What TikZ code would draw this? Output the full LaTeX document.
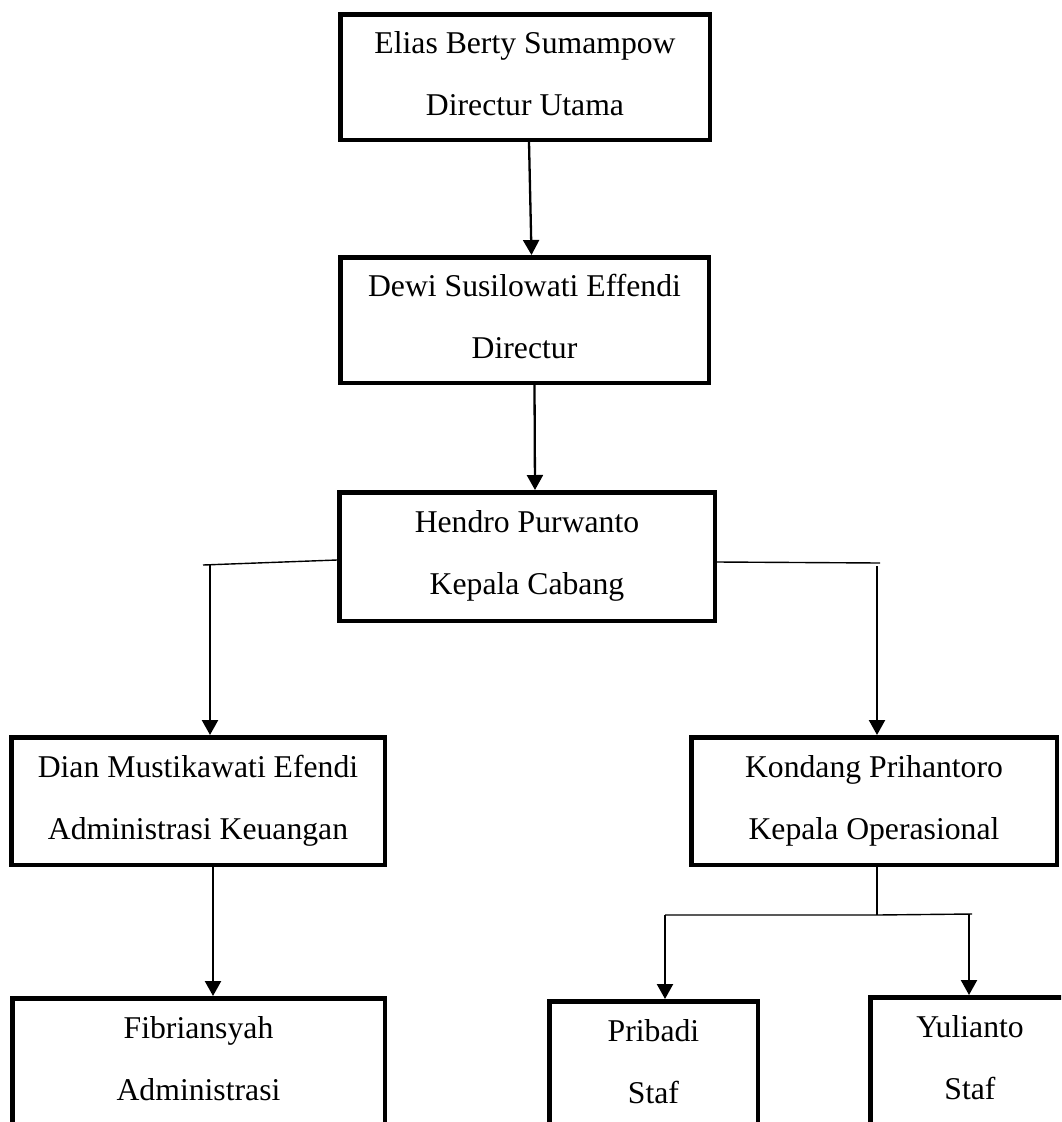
\documentclass[tikz,border=0pt]{standalone}
\usepackage{fontspec}
\setmainfont{Liberation Serif}
\usetikzlibrary{arrows.meta}
\newcommand{\boxfont}{\fontsize{31.7}{62}\selectfont}
\begin{document}
\begin{tikzpicture}[x=1pt,y=-1pt,
  box/.style={draw, line width=4.5pt, inner sep=0pt, align=center, font=\boxfont,
    execute at end node={\rule[-8pt]{0pt}{8pt}}},
  arr/.style={line width=2.3pt, -{Triangle[width=16pt,length=15pt]}},
  thinline/.style={line width=1.4pt}]
\useasboundingbox (0,0) rectangle (1061,1122);
\clip (0,0) rectangle (1061,1122);
\fill[white] (0,0) rectangle (1061,1122);

\node[box, minimum width=369.5pt, minimum height=125.5pt] (elias) at (525,77) {Elias Berty Sumampow\\Directur Utama};
\node[box, minimum width=368.5pt, minimum height=125.5pt] (dewi) at (524.5,320) {Dewi Susilowati Effendi\\Directur};
\node[box, minimum width=375.5pt, minimum height=128.5pt] (hendro) at (527,556.5) {Hendro Purwanto\\Kepala Cabang};
\node[box, minimum width=373.5pt, minimum height=127.5pt] (dian) at (198,801) {Dian Mustikawati Efendi\\Administrasi Keuangan};
\node[box, minimum width=365.5pt, minimum height=127.5pt] (kondang) at (874,801) {Kondang Prihantoro\\Kepala Operasional};
\node[box, minimum width=372.5pt, minimum height=127.5pt] (fibri) at (198.5,1062) {Fibriansyah\\Administrasi};
\node[box, minimum width=208.5pt, minimum height=127.5pt] (pribadi) at (653.5,1065) {Pribadi\\Staf};
\node[box, minimum width=199.5pt, minimum height=127.5pt] (yulianto) at (970,1061) {Yulianto\\Staf};

% top chain
\draw[arr] ([xshift=4pt]elias.south) -- ([xshift=7pt]dewi.north);
\draw[arr] ([xshift=10pt]dewi.south) -- ([xshift=8pt]hendro.north);

% left branch
\coordinate (lend) at (203,565);
\coordinate (ltop) at (210,565);
\draw[thinline] ([yshift=-3.5pt]hendro.west) -- (lend);
\draw[arr] (ltop) -- ([xshift=12pt]dian.north);

% right branch
\coordinate (rend) at (880,563);
\coordinate (rtop) at (877,566);
\draw[thinline] ([yshift=-5.5pt]hendro.east) -- (rend);
\draw[arr] (rtop) -- ([xshift=3pt]kondang.north);

% Dian to Fibriansyah
\draw[arr] ([xshift=15pt]dian.south) -- ([xshift=14.5pt]fibri.north);

% Kondang to staff
\coordinate (kjoin) at (877,915);
\coordinate (kleft) at (665,915);
\coordinate (kright) at (972,914);
\coordinate (kra) at (969,914);
\draw[thinline] ([xshift=3pt]kondang.south) -- (kjoin);
\draw[thinline] (kleft) -- (kjoin) -- (kright);
\draw[arr] (kleft) -- ([xshift=11.5pt]pribadi.north);
\draw[arr] (kra) -- ([xshift=-1pt]yulianto.north);
\end{tikzpicture}
\end{document}
